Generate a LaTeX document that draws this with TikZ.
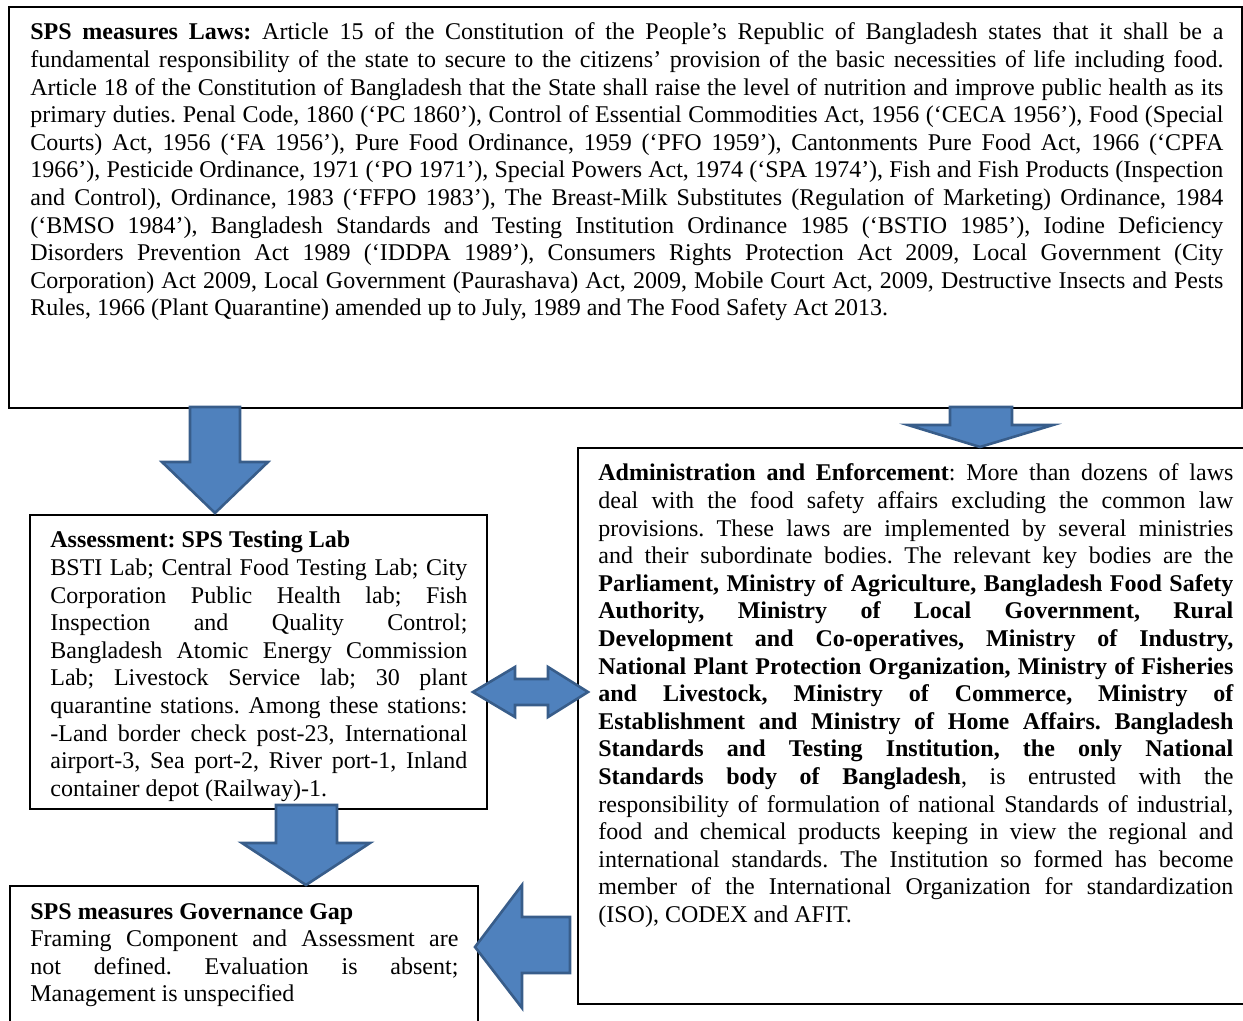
\documentclass[tikz,border=0pt]{standalone}
\usepackage{fontspec}
\setmainfont{Liberation Serif}
\definecolor{arrowfill}{HTML}{4F81BD}
\definecolor{arrowline}{HTML}{385D8A}
\hbadness=10000

\begin{document}
\begin{tikzpicture}[x=0.5pt,y=-0.5pt,
    para/.style={anchor=base west, inner sep=0pt, align=justify,
      font=\fontsize{12}{13.8}\selectfont\frenchspacing},
    frame/.style={draw=black, line width=0.6pt},
    blockarrow/.style={fill=arrowfill, draw=arrowline, line width=1.3pt, line join=miter}]
  \useasboundingbox (0,0) rectangle (1243,1021);
  \clip (0,0) rectangle (1243,1021);

  % laws
  \draw[frame] (9,7) rectangle (1242,408);
  \node[para, text width=596.5pt] (laws) at (30,40) {\textbf{SPS measures Laws:} Article 15 of the Constitution of the People’s Republic of Bangladesh states that it shall be a\linebreak
    fundamental responsibility of the state to secure to the citizens’ provision of the basic necessities of life including food.\linebreak
    Article 18 of the Constitution of Bangladesh that the State shall raise the level of nutrition and improve public health as its\linebreak
    primary duties. Penal Code, 1860 (‘PC 1860’), Control of Essential Commodities Act, 1956 (‘CECA 1956’), Food (Special\linebreak
    Courts) Act, 1956 (‘FA 1956’), Pure Food Ordinance, 1959 (‘PFO 1959’), Cantonments Pure Food Act, 1966 (‘CPFA\linebreak
    1966’), Pesticide Ordinance, 1971 (‘PO 1971’), Special Powers Act, 1974 (‘SPA 1974’), Fish and Fish Products (Inspection\linebreak
    and Control), Ordinance, 1983 (‘FFPO 1983’), The Breast-Milk Substitutes (Regulation of Marketing) Ordinance, 1984\linebreak
    (‘BMSO 1984’), Bangladesh Standards and Testing Institution Ordinance 1985 (‘BSTIO 1985’), Iodine Deficiency\linebreak
    Disorders Prevention Act 1989 (‘IDDPA 1989’), Consumers Rights Protection Act 2009, Local Government (City\linebreak
    Corporation) Act 2009, Local Government (Paurashava) Act, 2009, Mobile Court Act, 2009, Destructive Insects and Pests\linebreak
    Rules, 1966 (Plant Quarantine) amended up to July, 1989 and The Food Safety Act 2013.};

  % assessment
  \draw[frame] (30,515) rectangle (487,809);
  \node[para, text width=208.5pt] (assess) at (50,548) {\textbf{Assessment: SPS Testing Lab}\par
    BSTI Lab; Central Food Testing Lab; City\linebreak
    Corporation Public Health lab; Fish\linebreak
    Inspection and Quality Control;\linebreak
    Bangladesh Atomic Energy Commission\linebreak
    Lab; Livestock Service lab; 30 plant\linebreak
    quarantine stations. Among these stations:\linebreak
    -Land border check post-23, International\linebreak
    airport-3, Sea port-2, River port-1, Inland\linebreak
    container depot (Railway)-1.};

  % administration
  \draw[frame] (578,448) rectangle (1260,1004);
  \node[para, text width=317.5pt] (admin) at (598,481) {\textbf{Administration and Enforcement}: More than dozens of laws\linebreak
    deal with the food safety affairs excluding the common law\linebreak
    provisions. These laws are implemented by several ministries\linebreak
    and their subordinate bodies. The relevant key bodies are the\linebreak
    \textbf{Parliament, Ministry of Agriculture, Bangladesh Food Safety\linebreak
    Authority, Ministry of Local Government, Rural\linebreak
    Development and Co-operatives, Ministry of Industry,\linebreak
    National Plant Protection Organization, Ministry of Fisheries\linebreak
    and Livestock, Ministry of Commerce, Ministry of\linebreak
    Establishment and Ministry of Home Affairs. Bangladesh\linebreak
    Standards and Testing Institution, the only National\linebreak
    Standards body of Bangladesh}, is entrusted with the\linebreak
    responsibility of formulation of national Standards of industrial,\linebreak
    food and chemical products keeping in view the regional and\linebreak
    international standards. The Institution so formed has become\linebreak
    member of the International Organization for standardization\linebreak
    (ISO), CODEX and AFIT.};

  % gap
  \draw[frame] (10,886) rectangle (478,1040);
  \node[para, text width=214pt] (gap) at (30,919) {\textbf{SPS measures Governance Gap}\par
    Framing Component and Assessment are\linebreak
    not defined. Evaluation is absent;\linebreak
    Management is unspecified};

  % block arrows
  \filldraw[blockarrow] (190,407) -- (240,407) -- (240,462) -- (268,462) -- (215,513)
    -- (162,462) -- (190,462) -- cycle;
  \filldraw[blockarrow] (950,407) -- (1012,407) -- (1012,425) -- (1053,425) -- (980,447)
    -- (908,425) -- (950,425) -- cycle;
  \filldraw[blockarrow] (473,692) -- (515,667) -- (515,679) -- (548,679) -- (548,667)
    -- (588,692) -- (548,717) -- (548,705) -- (515,705) -- (515,717) -- cycle;
  \filldraw[blockarrow] (276,805) -- (337,805) -- (337,843) -- (370,843) -- (306,885)
    -- (242,843) -- (276,843) -- cycle;
  \filldraw[blockarrow] (475,947) -- (522,885) -- (522,917) -- (570,917) -- (570,973)
    -- (522,973) -- (522,1008) -- cycle;
\end{tikzpicture}
\end{document}
